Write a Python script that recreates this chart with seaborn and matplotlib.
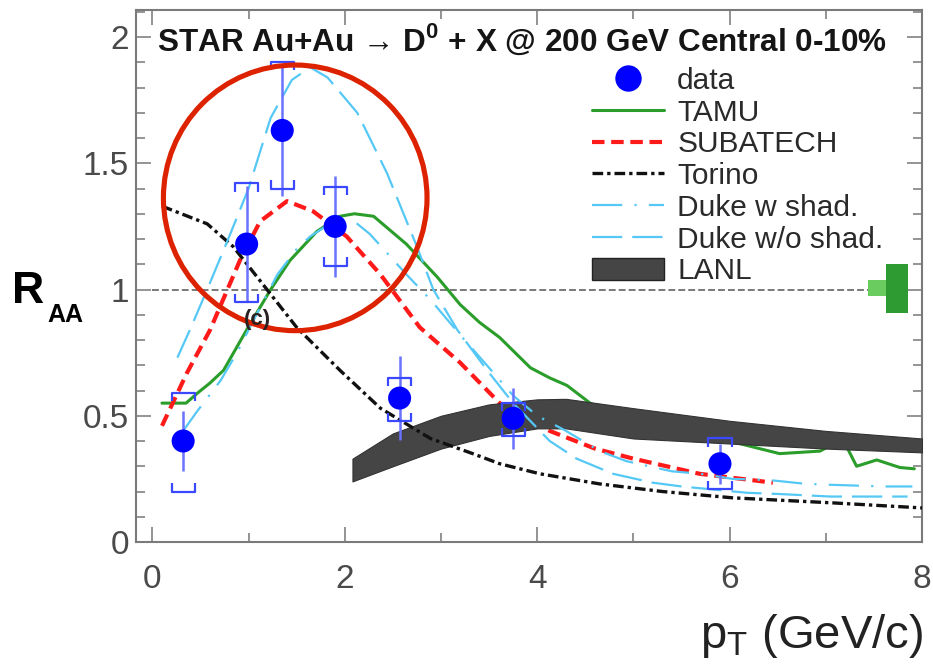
import numpy as np
import pandas as pd
import matplotlib
matplotlib.use('Agg')
import matplotlib.pyplot as plt
import seaborn as sns
from matplotlib.patches import Ellipse, Patch
from matplotlib.lines import Line2D
from matplotlib.collections import LineCollection
from matplotlib.ticker import MultipleLocator

# ---------------- data ----------------
data_pt = [0.32, 0.98, 1.35, 1.90, 2.57, 3.75, 5.90]
data_raa = [0.40, 1.18, 1.63, 1.25, 0.57, 0.49, 0.31]
data_stat = [0.12, 0.23, 0.26, 0.20, 0.165, 0.12, 0.08]
data_sys_lo = [0.20, 0.23, 0.23, 0.155, 0.09, 0.07, 0.10]
data_sys_hi = [0.19, 0.24, 0.27, 0.155, 0.08, 0.06, 0.10]

tamu_pt = [0.1, 0.35, 0.47, 0.6, 0.74, 0.98, 1.23, 1.43, 1.71, 1.95, 2.1, 2.3, 2.64, 2.96, 3.2, 3.4,
           3.61, 3.93, 4.13, 4.31, 4.55, 5.0, 5.5, 6.1, 6.52, 6.73, 6.94, 7.04, 7.22, 7.32, 7.53, 7.77, 7.92]
tamu_raa = [0.55, 0.55, 0.59, 0.63, 0.68, 0.84, 1.0, 1.115, 1.23, 1.29, 1.30, 1.29, 1.18, 1.05, 0.94, 0.87,
            0.81, 0.69, 0.65, 0.62, 0.55, 0.47, 0.43, 0.39, 0.35, 0.355, 0.36, 0.38, 0.375, 0.30, 0.325, 0.295, 0.29]

subatech_pt = [0.1, 0.36, 0.6, 0.91, 1.12, 1.40, 1.67, 2.02, 2.37, 2.78, 3.2, 3.61, 4.13, 4.6, 5.0, 5.69, 6.45]
subatech_raa = [0.46, 0.67, 0.84, 1.115, 1.27, 1.35, 1.31, 1.21, 1.06, 0.85, 0.71, 0.55, 0.44, 0.37, 0.33, 0.27, 0.235]

torino_pt = [0.1, 0.57, 0.84, 1.15, 1.5, 1.95, 2.37, 2.89, 3.33, 3.61, 4.03, 4.65, 5.3, 6.03, 7.07, 8.0]
torino_raa = [1.33, 1.26, 1.17, 1.02, 0.85, 0.68, 0.53, 0.41, 0.35, 0.31, 0.27, 0.23, 0.20, 0.175, 0.155, 0.135]

duke_shad_pt = [0.32, 0.47, 0.71, 0.88, 1.0, 1.3, 1.5, 1.64, 1.88, 2.13, 2.26, 2.64, 2.89, 3.2, 3.5, 3.75,
                4.0, 4.3, 4.65, 4.93, 5.4, 5.7, 6.03, 6.42, 6.8, 7.1, 7.6, 7.9]
duke_shad_raa = [0.44, 0.52, 0.64, 0.75, 0.84, 1.06, 1.16, 1.21, 1.27, 1.26, 1.22, 1.06, 0.96, 0.82, 0.69, 0.58,
                 0.50, 0.44, 0.36, 0.32, 0.28, 0.27, 0.25, 0.245, 0.23, 0.226, 0.22, 0.22]

duke_noshad_pt = [0.26, 0.39, 0.57, 0.81, 1.0, 1.23, 1.45, 1.64, 1.82, 2.13, 2.44, 2.75, 2.92, 3.17, 3.48,
                  3.75, 4.13, 4.41, 4.79, 5.2, 5.5, 6.18, 6.52, 7.05, 7.5, 7.85]
duke_noshad_raa = [0.73, 0.84, 1.0, 1.22, 1.40, 1.68, 1.83, 1.88, 1.84, 1.70, 1.46, 1.17, 1.0, 0.84, 0.68,
                   0.55, 0.40, 0.33, 0.27, 0.235, 0.22, 0.195, 0.19, 0.18, 0.18, 0.18]

lanl_pt = [2.08, 2.5, 3.0, 3.5, 4.0, 4.3, 5.0, 6.0, 7.0, 8.0]
lanl_hi = [0.33, 0.43, 0.50, 0.545, 0.565, 0.567, 0.53, 0.48, 0.44, 0.41]
lanl_lo = [0.24, 0.30, 0.37, 0.42, 0.45, 0.45, 0.41, 0.39, 0.37, 0.355]

norm_x0 = [7.44, 7.63]
norm_x1 = [7.63, 7.85]
norm_lo = [0.976, 0.905]
norm_hi = [1.036, 1.103]
norm_colors = ['#6acb5f', '#2e9a32']

legend_labels = ['data', 'TAMU', 'SUBATECH', 'Torino', 'Duke w shad.', 'Duke w/o shad.', 'LANL']
x_ticks = [0, 2, 4, 6, 8]
y_ticks = [0, 0.5, 1, 1.5, 2]
y_tick_labels = ['0', '0.5', '1', '1.5', '2']

# ---------------- styles ----------------
C_DATA = '#0000ff'
C_TAMU = '#2a9d2a'
C_SUB = '#ff1a1a'
C_TOR = '#111111'
C_DUKE = '#55c8f5'
C_LANL = '#454545'

sns.set_theme(style='ticks')
plt.rcParams['font.family'] = ['Liberation Sans', 'DejaVu Sans']
plt.rcParams['mathtext.fontset'] = 'custom'
plt.rcParams['mathtext.rm'] = 'Liberation Sans'
plt.rcParams['mathtext.bf'] = 'Liberation Sans:bold'

W, H = 933, 668
fig = plt.figure(figsize=(W / 100, H / 100), dpi=100)
ax = fig.add_axes([136 / W, 1 - 542 / H, (922 - 136) / W, (542 - 10) / H])
ax.set_facecolor('white')

ls_sub = (0, (3, 1.6))
ls_tor = (0, (3.2, 1.2, 1, 1.2))
ls_dw = (0, (13.6, 5.5, 1, 5.5))
ls_dwo = (0, (13.6, 4.5))

# reference line at 1
ax.hlines(1.0, 0, norm_x0[0], colors='#555555', linestyles=(0, (4.5, 2)), lw=1.1, zorder=1)

# models
sns.lineplot(x=tamu_pt, y=tamu_raa, ax=ax, color=C_TAMU, lw=2.2, estimator=None, sort=False, zorder=3)
sns.lineplot(x=subatech_pt, y=subatech_raa, ax=ax, color=C_SUB, lw=3.0, linestyle=ls_sub,
             estimator=None, sort=False, zorder=3)
ax.fill_between(lanl_pt, lanl_lo, lanl_hi, color=C_LANL, lw=0.8, edgecolor='#333333', zorder=4)
sns.lineplot(x=torino_pt, y=torino_raa, ax=ax, color=C_TOR, lw=2.4, linestyle=ls_tor,
             estimator=None, sort=False, zorder=5)
sns.lineplot(x=duke_shad_pt, y=duke_shad_raa, ax=ax, color=C_DUKE, lw=1.6, linestyle=ls_dw,
             estimator=None, sort=False, zorder=5)
sns.lineplot(x=duke_noshad_pt, y=duke_noshad_raa, ax=ax, color=C_DUKE, lw=1.6, linestyle=ls_dwo,
             estimator=None, sort=False, zorder=5)

# normalization boxes
for x0, x1, lo, hi, c in zip(norm_x0, norm_x1, norm_lo, norm_hi, norm_colors):
    ax.fill_between([x0, x1], [lo, lo], [hi, hi], color=c, lw=0, zorder=6)

# data: statistical errors
pt = np.array(data_pt)
raa = np.array(data_raa)
stat = np.array(data_stat)
ax.vlines(pt, raa - stat, raa + stat, colors='#6a72ff', lw=1.8, zorder=8)

# systematic brackets
hw, tk = 0.12, 0.032
segs = []
for x, y, lo, hi in zip(data_pt, data_raa, data_sys_lo, data_sys_hi):
    yt, yb = y + hi, y - lo
    segs.append([(x - hw, yt - tk), (x - hw, yt), (x + hw, yt), (x + hw, yt - tk)])
    segs.append([(x - hw, yb + tk), (x - hw, yb), (x + hw, yb), (x + hw, yb + tk)])
ax.add_collection(LineCollection(segs, colors='#3a48ff', lw=1.6, zorder=8))

sns.scatterplot(x=data_pt, y=data_raa, ax=ax, s=275, color=C_DATA, edgecolor='none', zorder=10, legend=False)

# annotation circle and label
ax.add_patch(Ellipse((1.485, 1.363), width=2.74, height=1.052, fill=False, ec='#dd2200', lw=3.7, zorder=20))
ax.text(1.09, 0.88, '(c)', ha='center', va='center', fontsize=16, fontweight='bold', color='#2b2020', zorder=21)

# axes
ax.set_xlim(-0.17, 8.0)
ax.set_ylim(0, 2.107)
ax.set_xticks(x_ticks)
ax.set_xticklabels([str(v) for v in x_ticks])
ax.set_yticks(y_ticks)
ax.set_yticklabels(y_tick_labels)
ax.xaxis.set_minor_locator(MultipleLocator(1))
ax.yaxis.set_minor_locator(MultipleLocator(0.1))
ax.tick_params(which='both', direction='in', top=True, right=True, color='#777777', width=1.1)
ax.tick_params(which='major', length=11, labelsize=24, labelcolor='#4a4a4a')
ax.tick_params(which='minor', length=6.5)
ax.tick_params(axis='x', pad=16)
ax.tick_params(axis='y', pad=5)
for s in ax.spines.values():
    s.set_color('#7a7a7a')
    s.set_linewidth(1.5)
ax.set_xlabel('')
ax.set_ylabel('')

# legend
handles = [
    Line2D([], [], ls='none', marker='o', ms=19, color=C_DATA, mec='none'),
    Line2D([], [], color=C_TAMU, lw=2.2),
    Line2D([], [], color=C_SUB, lw=3.0, ls=ls_sub),
    Line2D([], [], color=C_TOR, lw=2.4, ls=ls_tor),
    Line2D([], [], color=C_DUKE, lw=1.6, ls=ls_dw),
    Line2D([], [], color=C_DUKE, lw=1.6, ls=ls_dwo),
    Patch(facecolor=C_LANL, edgecolor='#222222'),
]
leg = ax.legend(handles, legend_labels, loc='upper left', bbox_to_anchor=(592 / W, 1 - 67 / H),
                bbox_transform=fig.transFigure, frameon=False, fontsize=21.5, handlelength=2.4,
                handletextpad=0.45, labelspacing=0.125, borderpad=0, borderaxespad=0, handleheight=0.8)
for t in leg.get_texts():
    t.set_color('#2a2a2a')
leg.set_zorder(30)

# title and labels
fig.text(157 / W, 1 - 51 / H, r'STAR Au+Au → D$^\mathbf{0}$ + X @ 200 GeV Central 0-10%',
         fontsize=22.7, fontweight='bold', ha='left', va='baseline', color='#151515')
fig.text(923 / W, 1 - 648 / H, r'p$_\mathregular{T}$ (GeV/c)', ha='right', va='baseline',
         fontsize=34, color='#222222')
fig.text(12 / W, 1 - 303 / H, 'R', fontsize=32, fontweight='bold', ha='left', va='baseline', color='black')
fig.text(47 / W, 1 - 322 / H, 'AA', fontsize=18, fontweight='bold', ha='left', va='baseline', color='black')

fig.savefig('out.png', dpi=100)
